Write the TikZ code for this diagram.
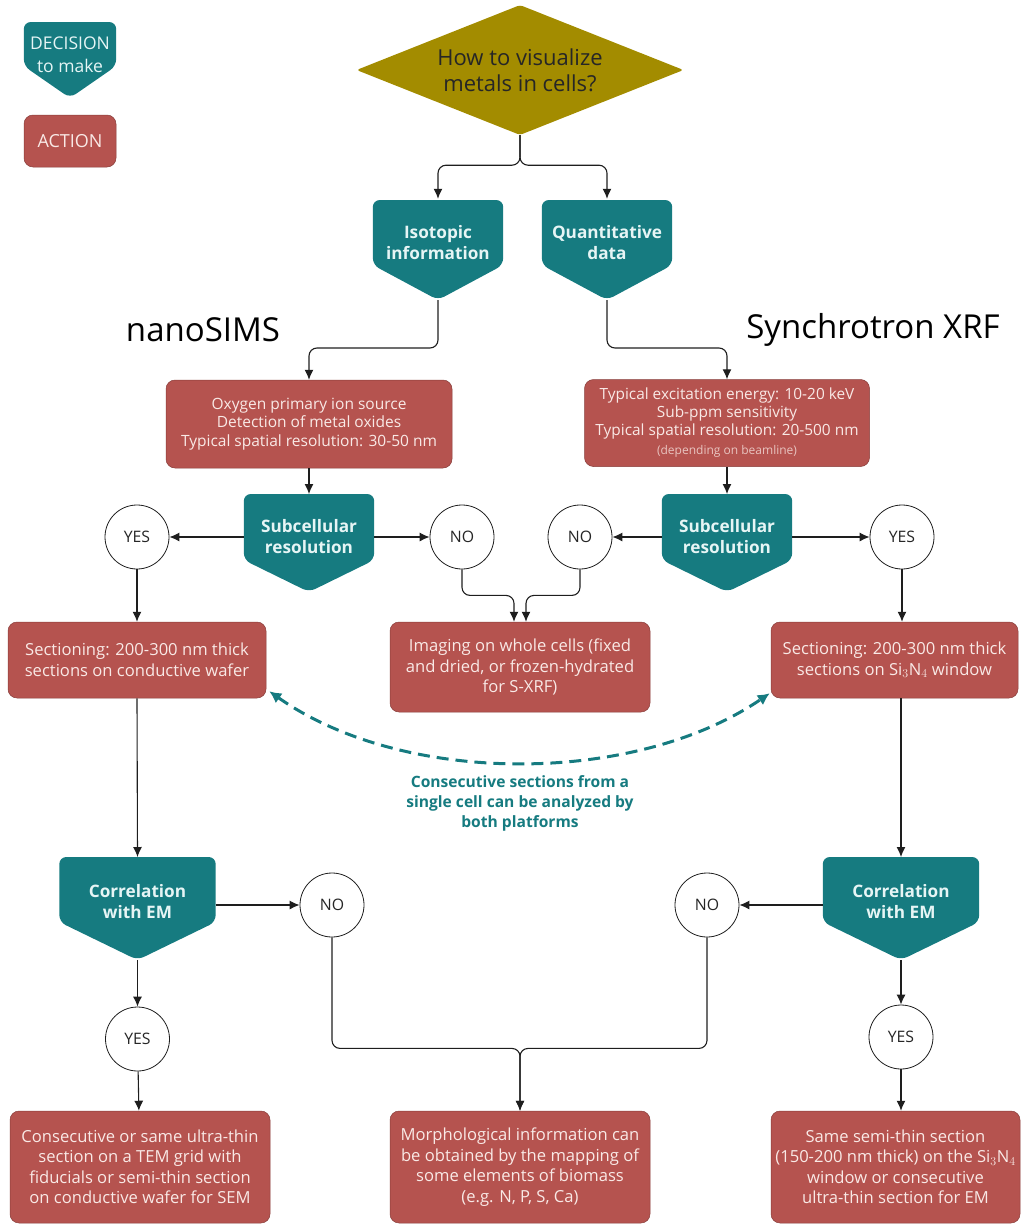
\documentclass[tikz,border=0pt]{standalone}
\usepackage{fontspec}
\setmainfont{Open Sans}
\usetikzlibrary{shapes.geometric}
\usetikzlibrary{arrows.meta}
\usetikzlibrary{positioning}
\definecolor{decteal}{HTML}{167B80}
\definecolor{dectext}{HTML}{E6F5F5}
\definecolor{actred}{HTML}{B5534F}
\definecolor{acttext}{HTML}{F9E9E6}
\definecolor{qolive}{HTML}{A38C00}
\definecolor{linegray}{HTML}{1E1E1E}
\pgfdeclarelayer{background}
\pgfsetlayers{background,main}
\tikzset{
  decision/.style={text=dectext, align=center, inner sep=0pt,
      minimum height=88pt, font=\fontsize{17.2}{21}\selectfont\bfseries},
  action/.style={fill=actred, draw=actred!75!black, line width=0.5pt,
      rounded corners=9pt, text=acttext, align=center,
      font=\fontsize{16.6}{20.5}\selectfont},
  question/.style={shape=diamond, shape aspect=2.5, fill=qolive, inner sep=0pt,
      rounded corners=3pt, minimum width=327pt, minimum height=130pt, align=center,
      text=black!85, font=\fontsize{22}{26}\selectfont},
  answer/.style={circle, draw=linegray, line width=0.8pt, fill=white,
      minimum size=64pt, inner sep=0pt, text=black!85,
      font=\fontsize{15.8}{18}\selectfont},
  platform/.style={text=black, font=\fontsize{33}{36}\selectfont},
  arr/.style={-{Latex[length=10pt,width=9pt]}, line width=1.1pt,
      draw=linegray, rounded corners=8pt},
  twinarr/.style={{Latex[length=12pt,width=12pt]}-{Latex[length=12pt,width=12pt]},
      draw=decteal, line width=3pt, dash pattern=on 12pt off 7pt},
}

\begin{document}
\begin{tikzpicture}[x=1pt, y=-1pt]
  \useasboundingbox (0,0) rectangle (1024,1226);

  % legend
  \node [decision, minimum width=92pt, minimum height=66pt,
         font=\fontsize{17.5}{23}\selectfont] (legdec) at (70,55) {DECISION\\to make};
  \node [action, minimum width=92pt, minimum height=52pt,
         font=\fontsize{18}{20}\selectfont] (legact) at (70,141) {ACTION};

  % start
  \node [question] (q) at (520,70) {How to visualize\\metals in cells?};

  \node [decision, minimum width=130pt] (iso) at (438,243) {Isotopic\\information};
  \node [decision, minimum width=130pt] (quant) at (607,243) {Quantitative\\data};

  \node [platform] (nano) at (203,330) {nanoSIMS};
  \node [platform] (sxrf) at (873,330) {Synchrotron XRF};

  \node [action, minimum width=286pt, minimum height=88pt,
         font=\fontsize{15.5}{18.5}\selectfont] (lbox) at (309,424)
        {Oxygen primary ion source\\Detection of metal oxides\\Typical spatial resolution: 30-50 nm};
  \node [action, minimum width=285pt, minimum height=87pt,
         font=\fontsize{15.4}{18}\selectfont] (rbox) at (727,423)
        {Typical excitation energy: 10-20 keV\\Sub-ppm sensitivity\\Typical spatial resolution: 20-500 nm\\[1pt]
         {\fontsize{12}{13}\selectfont\color{acttext!75!actred}(depending on beamline)}};

  \node [decision, minimum width=130pt] (lsub) at (309,537) {Subcellular\\resolution};
  \node [decision, minimum width=130pt] (rsub) at (727,537) {Subcellular\\resolution};

  \node [answer] (lyes) at (137,537) {YES};
  \node [answer] (lno) at (462,537) {NO};
  \node [answer] (rno) at (580,537) {NO};
  \node [answer] (ryes) at (902,537) {YES};

  \node [action, minimum width=258pt, minimum height=76pt] (lsec) at (137,660)
        {Sectioning: 200-300 nm thick\\sections on conductive wafer};
  \node [action, minimum width=260pt, minimum height=90pt] (mbox) at (520,667)
        {Imaging on whole cells (fixed\\and dried, or frozen-hydrated\\for S-XRF)};
  \node [action, minimum width=247pt, minimum height=76pt] (rsec) at (894.5,660)
        {Sectioning: 200-300 nm thick\\sections on Si$_3$N$_4$ window};

  \node [text=decteal, align=center, font=\fontsize{15.6}{20}\selectfont\bfseries] (both) at (520,803)
        {Consecutive sections from a\\single cell can be analyzed by\\both platforms};

  \node [decision, minimum width=156pt, minimum height=90pt] (lcorr) at (137.5,902) {Correlation\\with EM};
  \node [decision, minimum width=156pt, minimum height=90pt] (rcorr) at (901,902) {Correlation\\with EM};

  \node [answer] (lno2) at (332,905) {NO};
  \node [answer] (rno2) at (707,905) {NO};
  \node [answer] (lyes2) at (137.5,1039) {YES};
  \node [answer] (ryes2) at (901,1037) {YES};

  \node [action, minimum width=260pt, minimum height=112pt] (lbot) at (140,1167)
        {Consecutive or same ultra-thin\\section on a TEM grid with\\fiducials or semi-thin section\\on conductive wafer for SEM};
  \node [action, minimum width=260pt, minimum height=112pt] (mbot) at (520,1167)
        {Morphological information can\\be obtained by the mapping of\\some elements of biomass\\(e.g. N, P, S, Ca)};
  \node [action, minimum width=249pt, minimum height=112pt] (rbot) at (895.5,1167)
        {Same semi-thin section\\(150-200 nm thick) on the Si$_3$N$_4$\\window or consecutive\\ultra-thin section for EM};

  % pentagon backs of the decisions
  \begin{pgfonlayer}{background}
    \foreach \n/\up/\bd/\tp in {legdec/33/11/43, iso/43/22/57, quant/43/22/57,
                                lsub/43/23/55, rsub/43/23/55,
                                lcorr/45/20/58, rcorr/45/20/58}{
        \fill [decteal, rounded corners=7pt]
          ([shift={(0,-\up)}]\n.west) -- ([shift={(0,-\up)}]\n.east)
          -- ([shift={(0,\bd)}]\n.east) -- ([shift={(0,\tp)}]\n.center)
          -- ([shift={(0,\bd)}]\n.west) -- cycle;
        \coordinate (\n-tip) at ([shift={(0,\tp)}]\n.center);
      }
  \end{pgfonlayer}

  % top split
  \draw [arr] (q.south) -- ++(0,30) -| (iso.north);
  \draw [arr] (q.south) -- ++(0,30) -| (quant.north);
  \draw [arr] (iso-tip) -- ++(0,48) -| (lbox.north);
  \draw [arr] (quant-tip) -- ++(0,48) -| (rbox.north);
  \draw [arr] (lbox.south) -- ([shift={(0,-43)}]lsub.center);
  \draw [arr] (rbox.south) -- ([shift={(0,-43)}]rsub.center);

  % subcellular resolution
  \draw [arr] (lsub.west) -- (lyes);
  \draw [arr] (lsub.east) -- (lno);
  \draw [arr] (rsub.west) -- (rno);
  \draw [arr] (rsub.east) -- (ryes);
  \draw [arr] (lno.south) -- ++(0,26) -| ([shift={(-6,0)}]mbox.north);
  \draw [arr] (rno.south) -- ++(0,26) -| ([shift={(6,0)}]mbox.north);
  \draw [arr] (lyes.south) -- (lyes.south |- lsec.north);
  \draw [arr] (ryes.south) -- (ryes.south |- rsec.north);

  \draw [twinarr] ([shift={(3,-7)}]lsec.south east)
      .. controls +(135,95) and +(-135,92) .. ([shift={(-1,-5)}]rsec.south west);

  % correlation with EM
  \draw [arr] (lsec.south) -- ([shift={(0,-45)}]lcorr.center);
  \draw [arr] (rsec.south -| rcorr) -- ([shift={(0,-45)}]rcorr.center);
  \draw [arr] (lcorr.east |- lno2) -- (lno2);
  \draw [arr] (rcorr.west |- rno2) -- (rno2);
  \draw [arr] (lcorr-tip) -- (lyes2);
  \draw [arr] (rcorr-tip) -- (ryes2);
  \draw [arr] (lyes2) -- (lbot);
  \draw [arr] (ryes2) -- (ryes2 |- rbot.north);
  \draw [arr] (lno2.south) -- ++(0,111) -| (mbot.north);
  \draw [arr] (rno2.south) -- ++(0,111) -| (mbot.north);
\end{tikzpicture}
\end{document}
